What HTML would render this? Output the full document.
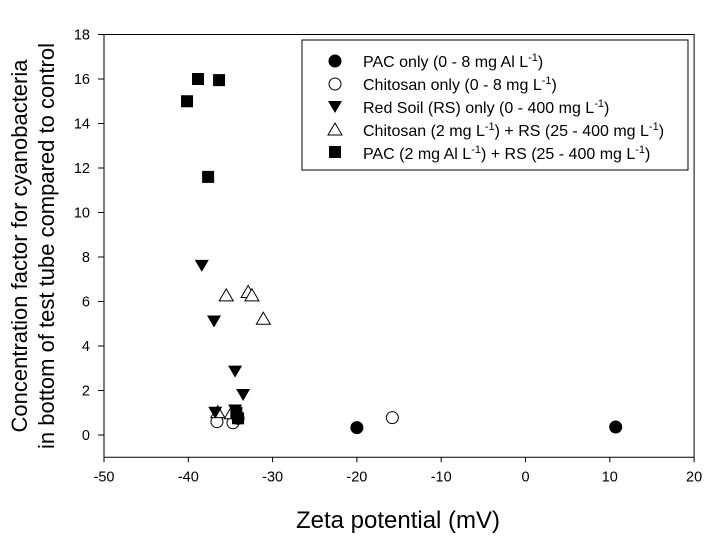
<!DOCTYPE html>
<html><head><meta charset="utf-8"><style>
body{margin:0;background:#fff}
svg{display:block;font-family:"Liberation Sans",Arial,sans-serif}
</style></head><body>
<svg id="chart" width="704" height="537" viewBox="0 0 704 537" xmlns="http://www.w3.org/2000/svg">
<g id="axes"></g><g id="marks"></g>
<text x="398" y="528" font-size="24" text-anchor="middle">Zeta potential (mV)</text>
<g transform="translate(27,246) rotate(-90)" font-size="22" text-anchor="middle">
<text x="0" y="0">Concentration factor for cyanobacteria</text>
<text x="0" y="27">in bottom of test tube compared to control</text>
</g>
<g>
<rect x="302" y="40" width="386" height="130" fill="#fff" stroke="#000" stroke-width="1"/>
<circle cx="335" cy="61" r="6.5" fill="#000"/>
<text x="363" y="67" font-size="16">PAC only (0 - 8 mg Al L<tspan dy="-6" font-size="11">-1</tspan><tspan dy="6">)</tspan></text>
<circle cx="335" cy="84" r="6" fill="#fff" stroke="#000"/>
<text x="363" y="90" font-size="16">Chitosan only (0 - 8 mg L<tspan dy="-6" font-size="11">-1</tspan><tspan dy="6">)</tspan></text>
<polygon points="328,101 342,101 335,113" fill="#000"/>
<text x="363" y="113" font-size="16">Red Soil (RS) only (0 - 400 mg L<tspan dy="-6" font-size="11">-1</tspan><tspan dy="6">)</tspan></text>
<polygon points="328,135 342,135 335,123" fill="#fff" stroke="#000"/>
<text x="363" y="136" font-size="16">Chitosan (2 mg L<tspan dy="-6" font-size="11">-1</tspan><tspan dy="6">) + RS (25 - 400 mg L</tspan><tspan dy="-6" font-size="11">-1</tspan><tspan dy="6">)</tspan></text>
<rect x="329" y="146" width="12" height="12" fill="#000"/>
<text x="363" y="159" font-size="16">PAC (2 mg Al L<tspan dy="-6" font-size="11">-1</tspan><tspan dy="6">) + RS (25 - 400 mg L</tspan><tspan dy="-6" font-size="11">-1</tspan><tspan dy="6">)</tspan></text>
</g>
</svg>
<script>
const xTicks=[-50,-40,-30,-20,-10,0,10,20];
const yTicks=[0,2,4,6,8,10,12,14,16,18];
const pacX=[-20,10.7,-34.1];
const pacY=[0.33,0.36,0.75];
const chiX=[-36.6,-34.7,-15.8];
const chiY=[0.6,0.55,0.78];
const rsX=[-38.4,-36.95,-34.45,-33.5,-34.45,-36.8];
const rsY=[7.6,5.1,2.85,1.8,1.1,1.0];
const chrsX=[-35.5,-32.9,-32.45,-31.1,-36.5,-34.9];
const chrsY=[6.3,6.45,6.3,5.25,1.05,1.0];
const pacrsX=[-40.15,-38.85,-36.35,-37.65,-34.1,-34.3];
const pacrsY=[15.0,16.0,15.95,11.6,0.75,1.0];
const X=v=>104+(v+50)*8.43;
const Y=v=>435-v*22.25;
const NS='http://www.w3.org/2000/svg';
const ax=document.getElementById('axes'),mk=document.getElementById('marks');
function mkEl(t,a,p){const e=document.createElementNS(NS,t);for(const k in a)e.setAttribute(k,a[k]);p.appendChild(e);return e;}
const fr=mkEl('rect',{x:104,y:Y(18),width:X(20)-104,height:Y(-1)-Y(18),fill:'none',stroke:'#000'},ax);


xTicks.forEach(v=>{mkEl('line',{x1:X(v),y1:Y(-1),x2:X(v),y2:Y(-1)+5,stroke:'#000'},ax);
const t=mkEl('text',{x:X(v),y:Y(-1)+24,'font-size':14.5,'text-anchor':'middle'},ax);t.textContent=v;

});
yTicks.forEach(v=>{mkEl('line',{x1:98,y1:Y(v),x2:104,y2:Y(v),stroke:'#000'},ax);
const t=mkEl('text',{x:90,y:Y(v)+5,'font-size':14.5,'text-anchor':'end'},ax);t.textContent=v;

});
function draw(xs,ys,kind,name){xs.forEach((x,i)=>{const cx=X(x),cy=Y(ys[i]);let e;
if(kind==='fc')e=mkEl('circle',{cx,cy,r:6.5,fill:'#000'},mk);
else if(kind==='oc')e=mkEl('circle',{cx,cy,r:6,fill:'#fff',stroke:'#000'},mk);
else if(kind==='td')e=mkEl('polygon',{points:`${cx-7},${cy-6} ${cx+7},${cy-6} ${cx},${cy+6}`,fill:'#000'},mk);
else if(kind==='tu')e=mkEl('polygon',{points:`${cx-7},${cy+6} ${cx+7},${cy+6} ${cx},${cy-6}`,fill:'#fff',stroke:'#000'},mk);
else e=mkEl('rect',{x:cx-6,y:cy-6,width:12,height:12,fill:'#000'},mk);

});}
draw(chiX,chiY,'oc','chitosan-only-point');
draw(chrsX,chrsY,'tu','chitosan-rs-point');
draw(rsX,rsY,'td','red-soil-point');
draw(pacrsX,pacrsY,'sq','pac-rs-point');
draw(pacX,pacY,'fc','pac-only-point');
</script>
</body></html>
